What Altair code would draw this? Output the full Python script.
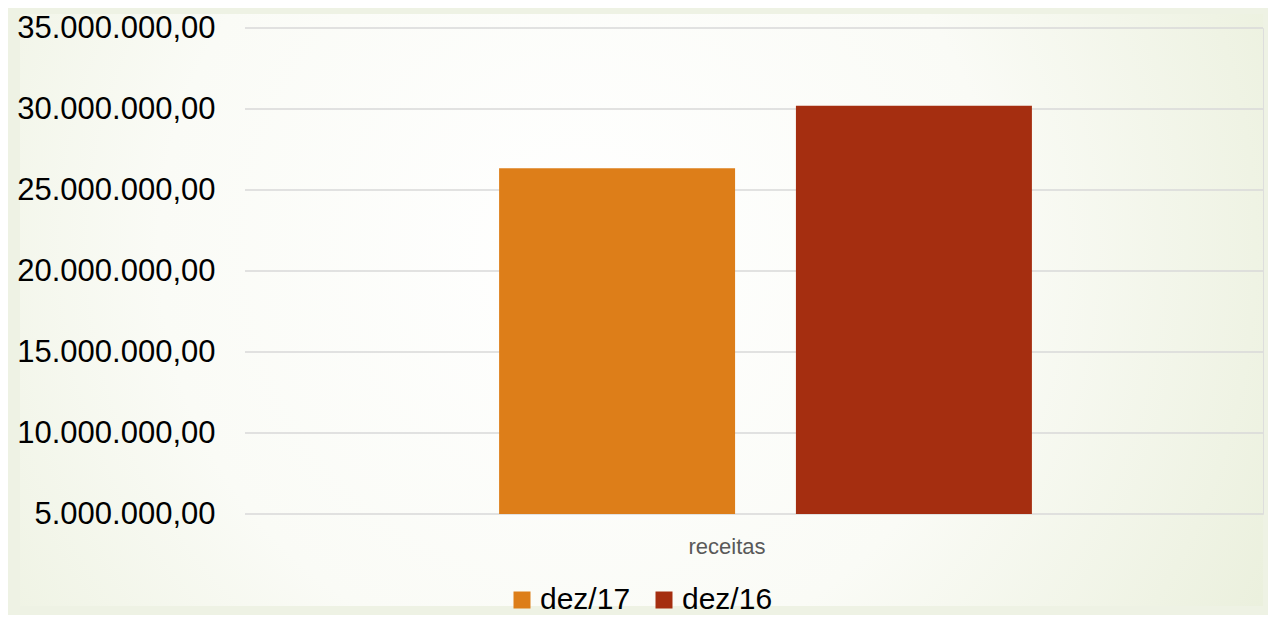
import altair as alt
import pandas as pd

categories = ["receitas"]
series = ["dez/17", "dez/16"]
values = [26350000, 30200000]
colors = ["#DD7E19", "#A52E10"]
y_ticks = [5000000, 10000000, 15000000, 20000000, 25000000, 30000000, 35000000]

bars_df = pd.DataFrame({"cat": categories * len(series), "serie": series, "valor": values})
grid_df = pd.DataFrame({"tick": y_ticks})

FONT = "Liberation Sans"
yscale = alt.Scale(domain=[5000000, 35000000], zero=False, nice=False)

background = alt.Chart(pd.DataFrame({"a": [0]})).mark_rect(
    fill=alt.Gradient(
        gradient="radial",
        x1=0.45, y1=0.45, r1=0.0,
        x2=0.45, y2=0.45, r2=0.75,
        stops=[
            alt.GradientStop(offset=0, color="#ffffff"),
            alt.GradientStop(offset=0.45, color="#fafbf6"),
            alt.GradientStop(offset=1, color="#e4ebd2"),
        ],
    )
).encode(
    x=alt.value(-225), x2=alt.value(1018), y=alt.value(-14), y2=alt.value(578)
)

grid = alt.Chart(grid_df).mark_rule(color="#d9d9d9", strokeWidth=1.5).encode(
    y=alt.Y("tick:Q", scale=yscale)
)

bars = alt.Chart(bars_df).mark_bar().encode(
    x=alt.X(
        "cat:N",
        sort=categories,
        scale=alt.Scale(paddingInner=0, paddingOuter=0.46, range=[9, 1032]),
        axis=alt.Axis(
            title=None, labelAngle=0, labelFontSize=22, labelColor="#595959",
            labelFont=FONT, domain=False, ticks=False, labelPadding=22,
            labelAlign="right", zindex=1,
        ),
    ),
    xOffset=alt.XOffset("serie:N", sort=series, scale=alt.Scale(paddingInner=0.205, paddingOuter=0)),
    y=alt.Y(
        "valor:Q",
        scale=yscale,
        axis=alt.Axis(
            title=None, values=y_ticks, format=",.2f", grid=False, domain=False,
            ticks=False, labelFontSize=31, labelColor="#000000", labelFont=FONT,
            labelPadding=30, labelLimit=0, zindex=1,
        ),
    ),
    y2=alt.datum(5000000),
    color=alt.Color(
        "serie:N",
        sort=series,
        scale=alt.Scale(domain=series, range=colors),
        legend=alt.Legend(
            title=None, orient="none", legendX=262, legendY=557, direction="horizontal",
            symbolType="square", symbolSize=289, symbolStrokeWidth=0, symbolOpacity=1,
            labelFontSize=30, labelFont=FONT, labelColor="#000000", labelOffset=3,
            columnPadding=18, zindex=1,
        ),
    ),
)

chart = alt.layer(background, grid, bars).properties(
    width=1018, height=486,
    padding={"left": 8, "top": 4, "right": 0, "bottom": 0},
    background="#eef2e4",
).configure_view(stroke=None).configure(
    locale={"number": {"decimal": ",", "thousands": ".", "grouping": [3], "currency": ["R$", ""]}}
)

chart.save("out.html", embed_options={"renderer": "svg", "actions": False})
